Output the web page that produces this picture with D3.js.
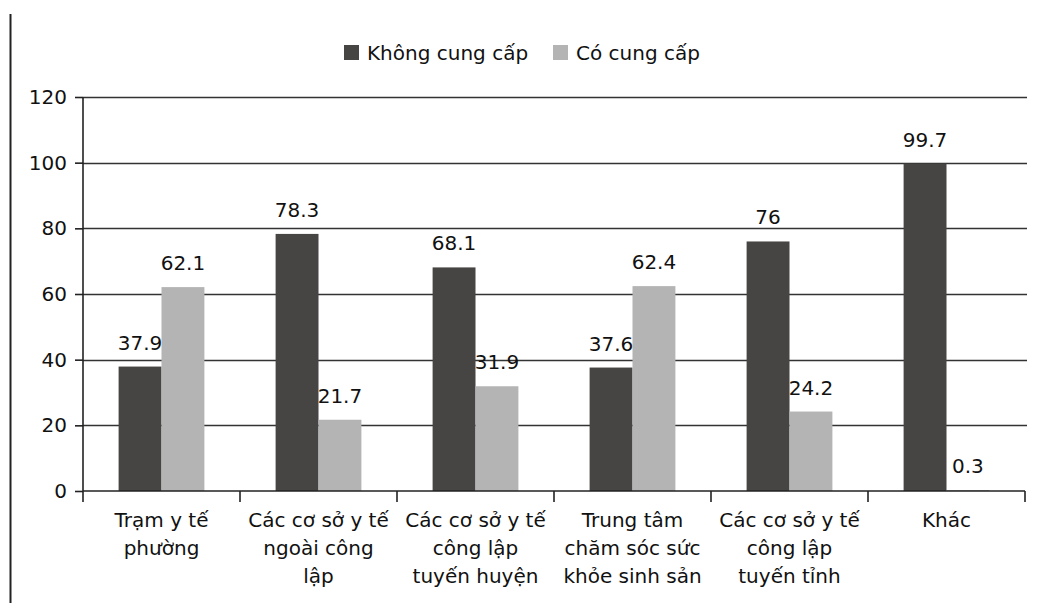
<!DOCTYPE html>
<html>
<head>
<meta charset="utf-8">
<script src="https://cdn.jsdelivr.net/npm/d3@7"></script>
<style>
html,body{margin:0;padding:0;background:#fff;}
svg{display:block;}
text{font-family:"DejaVu Sans",Verdana,sans-serif;fill:#111;}
</style>
</head>
<body>
<svg id="chart" width="1048" height="603"></svg>
<script>
const categories = ["Trạm y tế phường","Các cơ sở y tế ngoài công lập","Các cơ sở y tế công lập tuyến huyện","Trung tâm chăm sóc sức khỏe sinh sản","Các cơ sở y tế công lập tuyến tỉnh","Khác"];
const categoryLines = [["Trạm y tế","phường"],["Các cơ sở y tế","ngoài công","lập"],["Các cơ sở y tế","công lập","tuyến huyện"],["Trung tâm","chăm sóc sức","khỏe sinh sản"],["Các cơ sở y tế","công lập","tuyến tỉnh"],["Khác"]];
const seriesNames = ["Không cung cấp","Có cung cấp"];
const khongCungCap = [37.9, 78.3, 68.1, 37.6, 76, 99.7];
const coCungCap = [62.1, 21.7, 31.9, 62.4, 24.2, 0.3];
const yTicks = [0, 20, 40, 60, 80, 100, 120];
const colors = ["#474543", "#b4b4b4"];

const svg = d3.select("#chart");
const mLeft = 83, mRight = 1025, mTop = 97, mBottom = 491;

const x0 = d3.scaleBand().domain(categories).range([mLeft, mRight]).paddingInner(0).paddingOuter(0);
const x1 = d3.scaleBand().domain(seriesNames).range([0, x0.bandwidth()]).paddingInner(0).paddingOuter(0.83);
const y = d3.scaleLinear().domain([0, 120]).range([mBottom, mTop]);

// outer left border line
svg.append("line").attr("x1", 10.5).attr("x2", 10.5).attr("y1", 14).attr("y2", 603)
  .attr("stroke", "#222").attr("stroke-width", 2);

// gridlines
svg.append("g").selectAll("line").data(yTicks.filter(d => d > 0)).join("line")
  .attr("x1", mLeft).attr("x2", mRight + 2)
  .attr("y1", d => Math.round(y(d)) + 0.5).attr("y2", d => Math.round(y(d)) + 0.5)
  .attr("stroke", "#333").attr("stroke-width", 1.6);

// bars
const data = categories.map((c, i) => ({cat: c, vals: [khongCungCap[i], coCungCap[i]]}));
const groups = svg.append("g").selectAll("g").data(data).join("g")
  .attr("transform", d => `translate(${x0(d.cat)},0)`);
groups.selectAll("rect").data(d => d.vals.map((v, j) => ({s: seriesNames[j], v, j}))).join("rect")
  .attr("x", d => x1(d.s)).attr("width", x1.bandwidth())
  .attr("y", d => y(d.v)).attr("height", d => y(0) - y(d.v))
  .attr("fill", d => colors[d.j]);
groups.selectAll("text.val").data(d => d.vals.map((v, j) => ({s: seriesNames[j], v, j}))).join("text")
  .attr("class", "val")
  .attr("x", d => x1(d.s) + x1.bandwidth() / 2)
  .attr("y", d => y(d.v) - 17)
  .attr("text-anchor", "middle").attr("font-size", 20)
  .text(d => d.v);

// y axis
const yAxis = d3.axisLeft(y).tickValues(yTicks).tickSize(8).tickPadding(8).tickFormat(d3.format("d"));
const gy = svg.append("g").attr("transform", `translate(${mLeft},0)`).call(yAxis);
gy.select(".domain").attr("stroke", "#222").attr("stroke-width", 1.6).attr("d", `M0,${mTop}V${mBottom}`);
gy.selectAll(".tick line").attr("stroke", "#222").attr("stroke-width", 1.6);
gy.selectAll(".tick text").attr("font-size", 20).attr("font-family", "DejaVu Sans").attr("fill", "#111");

// x axis baseline + ticks at band boundaries
svg.append("line").attr("x1", mLeft).attr("x2", mRight).attr("y1", mBottom).attr("y2", mBottom)
  .attr("stroke", "#222").attr("stroke-width", 1.6);
const boundaries = categories.map(c => x0(c)).concat([mRight]);
svg.append("g").selectAll("line").data(boundaries).join("line")
  .attr("x1", d => d).attr("x2", d => d).attr("y1", mBottom).attr("y2", mBottom + 11)
  .attr("stroke", "#222").attr("stroke-width", 1.6);

// category labels
const cl = svg.append("g").selectAll("text").data(categories).join("text")
  .attr("text-anchor", "middle").attr("font-size", 20)
  .attr("transform", c => `translate(${x0(c) + x0.bandwidth() / 2},527)`);
cl.selectAll("tspan").data((c, i) => categoryLines[i]).join("tspan")
  .attr("x", 0).attr("dy", (d, k) => k === 0 ? 0 : 28).text(d => d);

// legend
const legendX = [344, 553];
const lg = svg.append("g").selectAll("g").data(seriesNames).join("g")
  .attr("transform", (d, i) => `translate(${legendX[i]},45)`);
lg.append("rect").attr("width", 15).attr("height", 15).attr("fill", (d, i) => colors[i]);
lg.append("text").attr("x", 23).attr("y", 15).attr("font-size", 20).text(d => d);
</script>
</body>
</html>
